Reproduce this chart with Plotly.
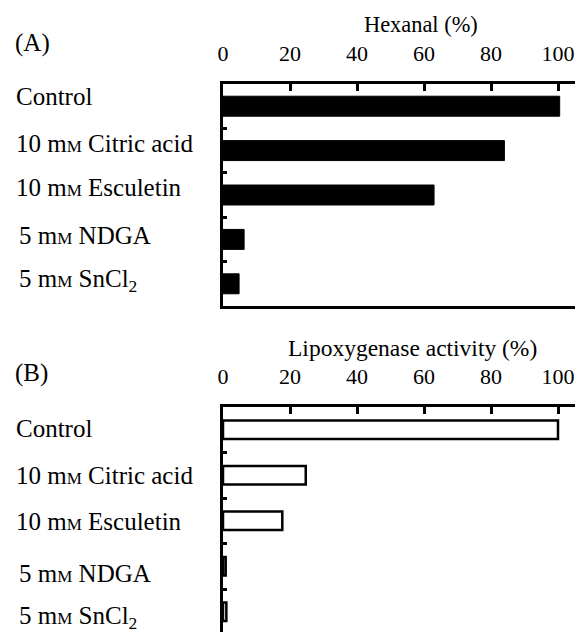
import plotly.graph_objects as go

categories = ["Control", "10 mM Citric acid", "10 mM Esculetin", "5 mM NDGA", "5 mM SnCl2"]
category_labels = [
    "Control",
    "10 m<span style='font-size:17px'>M</span> Citric acid",
    "10 m<span style='font-size:17px'>M</span> Esculetin",
    "5 m<span style='font-size:17px'>M</span> NDGA",
    "5 m<span style='font-size:17px'>M</span> SnCl<sub>2</sub>",
]
hexanal = [100.5, 84, 63, 6.3, 4.8]
lipoxygenase = [100, 24.7, 17.7, 0.8, 1.0]
tick_vals = [0, 20, 40, 60, 80, 100]

FONT = "Liberation Serif"
# page has an 8px body margin; compensate so the figure lands on the 583x632 window
OFF = 8
W, H = 583 - OFF, 632 - OFF
AX0 = 223          # page x of value 0
PXU = 3.35         # pixels per percent
L = AX0 - OFF

# label style (screen px shifts, positive = up) and left positions
label_x = [14, 14, 14, 17, 17]
shift_A = [9.5, 7, 7.5, 3.5, 3]
shift_B = [1, 0, -0.5, -7, -5.5]

fig = go.Figure()
fig.add_trace(go.Bar(x=hexanal, y=categories, orientation="h", width=0.45,
                     marker=dict(color="black", line=dict(color="black", width=1)),
                     xaxis="x", yaxis="y", showlegend=False))
fig.add_trace(go.Bar(x=lipoxygenase, y=categories, orientation="h", width=0.41,
                     marker=dict(color="white", line=dict(color="black", width=2.5)),
                     xaxis="x2", yaxis="y2", showlegend=False))

def yfrac(px):
    return 1 - (px - OFF) / H

def xfrac(px):
    return (px - OFF - L) / (W - L)

xcommon = dict(range=[0, (W - L) / PXU], side="top", showline=True, linewidth=3, linecolor="black",
               ticks="inside", ticklen=7, tickwidth=2.5, tickcolor="black",
               tickvals=tick_vals, ticktext=[str(v) for v in tick_vals],
               tickfont=dict(family=FONT, size=22, color="black"),
               ticklabelstandoff=11, showgrid=False, zeroline=False, domain=[0, 1])
ycommon = dict(type="category", categoryorder="array", categoryarray=categories,
               showline=True, linewidth=3, linecolor="black",
               ticks="inside", ticklen=4, tickwidth=2.5, tickcolor="black", tickson="boundaries",
               showticklabels=False, showgrid=False, zeroline=False)

B_TOP = 407
B_CAT = 45.5
fig.update_layout(
    width=W, height=H, margin=dict(l=L, r=0, t=0, b=0),
    paper_bgcolor="white", plot_bgcolor="white",
    xaxis=dict(**xcommon, anchor="y", mirror=True),
    yaxis=dict(**ycommon, range=[4.5, -0.5], domain=[yfrac(306), yfrac(84)]),
    xaxis2=dict(**xcommon, anchor="y2"),
    yaxis2=dict(**ycommon, range=[-0.5 + (632 - B_TOP) / B_CAT, -0.5], domain=[0, yfrac(B_TOP)]),
    bargap=0.5,
)

ann = []
for i, lab in enumerate(category_labels):
    for yr, sh in (("y", shift_A[i]), ("y2", shift_B[i])):
        ann.append(dict(text=lab, x=xfrac(label_x[i]), y=categories[i], xref="paper", yref=yr,
                        xanchor="left", yanchor="middle", yshift=sh, showarrow=False,
                        font=dict(family=FONT, size=25, color="black")))
ann.append(dict(text="Hexanal (%)", x=xfrac(421), y=yfrac(24), xref="paper", yref="paper",
                xanchor="center", yanchor="middle", showarrow=False,
                font=dict(family=FONT, size=22.4, color="black")))
ann.append(dict(text="Lipoxygenase activity (%)", x=xfrac(412), y=yfrac(348), xref="paper", yref="paper",
                xanchor="center", yanchor="middle", showarrow=False,
                font=dict(family=FONT, size=23.5, color="black")))
ann.append(dict(text="(A)", x=xfrac(13), y=yfrac(43), xref="paper", yref="paper",
                xanchor="left", yanchor="middle", showarrow=False,
                font=dict(family=FONT, size=25, color="black")))
ann.append(dict(text="(B)", x=xfrac(13), y=yfrac(373), xref="paper", yref="paper",
                xanchor="left", yanchor="middle", showarrow=False,
                font=dict(family=FONT, size=25, color="black")))
fig.update_layout(annotations=ann)

fig.write_html("out.html")
